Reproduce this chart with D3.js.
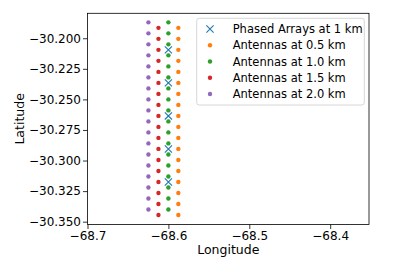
<!DOCTYPE html>
<html>
<head>
<meta charset="utf-8">
<script src="https://cdn.jsdelivr.net/npm/d3@7"></script>
<style>
  body { margin: 0; background: #fff; }
  text { font-family: "DejaVu Sans", sans-serif; fill: #000; }
</style>
</head>
<body>
<div id="chart-area"></div>
<script>
// SVG Size
var width = 407,
    height = 271;

// longitudes of each column
var lonPhased = -68.6,
    lon05 = -68.5877,
    lon10 = -68.6,
    lon15 = -68.6123,
    lon20 = -68.6247;

// latitudes of the points in each column
var latPhased = [-30.2095, -30.2365, -30.2635, -30.2905, -30.3175];
var lat05 = [-30.1915, -30.2005, -30.2095, -30.2185, -30.2275, -30.2365, -30.2455, -30.2545, -30.2635,
             -30.2725, -30.2815, -30.2905, -30.2995, -30.3085, -30.3175, -30.3265, -30.3355, -30.3445];
var lat10 = [-30.187, -30.196, -30.205, -30.214, -30.223, -30.232, -30.241, -30.250, -30.259,
             -30.268, -30.277, -30.286, -30.295, -30.304, -30.313, -30.322, -30.331, -30.340];
var lat15 = [-30.1915, -30.2005, -30.2095, -30.2185, -30.2275, -30.2365, -30.2455, -30.2545, -30.2635,
             -30.2725, -30.2815, -30.2905, -30.2995, -30.3085, -30.3175, -30.3265, -30.3355, -30.3445];
var lat20 = [-30.187, -30.196, -30.205, -30.214, -30.223, -30.232, -30.241, -30.250, -30.259,
             -30.268, -30.277, -30.286, -30.295, -30.304, -30.313, -30.322, -30.331, -30.340];

var xTicks = [-68.7, -68.6, -68.5, -68.4];
var yTicks = [-30.200, -30.225, -30.250, -30.275, -30.300, -30.325, -30.350];

var seriesNames = ["Antennas at 0.5 km", "Antennas at 1.0 km", "Antennas at 1.5 km", "Antennas at 2.0 km"];
var seriesColors = ["#ff7f0e", "#2ca02c", "#d62728", "#9467bd"];

var series = [
  { name: seriesNames[0], color: seriesColors[0], lon: lon05, lat: lat05 },
  { name: seriesNames[1], color: seriesColors[1], lon: lon10, lat: lat10 },
  { name: seriesNames[2], color: seriesColors[2], lon: lon15, lat: lat15 },
  { name: seriesNames[3], color: seriesColors[3], lon: lon20, lat: lat20 }
];

var svg = d3.select("#chart-area").append("svg")
    .attr("width", width)
    .attr("height", height);

var plotLeft = 87.5, plotRight = 369, plotTop = 13.3, plotBottom = 224.5;

var x = d3.scaleLinear()
    .domain([-68.7, -68.352])
    .range([plotLeft, plotRight]);

var y = d3.scaleLinear()
    .domain([-30.3523, -30.1796])
    .range([plotBottom, plotTop]);

// axes
var xAxis = d3.axisBottom(x)
    .tickValues(xTicks)
    .tickFormat(d3.format(".1f"))
    .tickSize(4.5)
    .tickPadding(2);

var yAxis = d3.axisLeft(y)
    .tickValues(yTicks)
    .tickFormat(d3.format(".3f"))
    .tickSize(4.5)
    .tickPadding(2);

var gx = svg.append("g")
    .attr("transform", "translate(0," + plotBottom + ")")
    .call(xAxis);
var gy = svg.append("g")
    .attr("transform", "translate(" + plotLeft + ",0)")
    .call(yAxis);

[gx, gy].forEach(function(g) {
  g.select(".domain").remove();
  g.selectAll(".tick line").attr("stroke", "#000").attr("stroke-width", 0.8);
  g.selectAll(".tick text")
    .style("font-family", "DejaVu Sans")
    .style("font-size", "12px")
    .attr("fill", "#000");
});

// dots
series.forEach(function(s) {
  svg.append("g").selectAll("circle")
    .data(s.lat)
    .enter()
    .append("circle")
    .attr("cx", x(s.lon))
    .attr("cy", function(d) { return y(d); })
    .attr("r", 2.2)
    .attr("fill", s.color);
});

// phased arrays (x markers)
var xm = 3.6;
svg.append("g").selectAll("path")
  .data(latPhased)
  .enter()
  .append("path")
  .attr("d", function(d) {
    var cx = x(lonPhased), cy = y(d);
    return "M" + (cx - xm) + "," + (cy - xm) + "L" + (cx + xm) + "," + (cy + xm) +
           "M" + (cx - xm) + "," + (cy + xm) + "L" + (cx + xm) + "," + (cy - xm);
  })
  .attr("stroke", "#1f77b4")
  .attr("stroke-width", 1.1)
  .attr("fill", "none");

// frame
svg.append("rect")
  .attr("x", plotLeft)
  .attr("y", plotTop)
  .attr("width", plotRight - plotLeft)
  .attr("height", plotBottom - plotTop)
  .attr("fill", "none")
  .attr("stroke", "#000")
  .attr("stroke-width", 0.8);

// axis labels
svg.append("text")
  .attr("x", (plotLeft + plotRight) / 2)
  .attr("y", 254)
  .attr("text-anchor", "middle")
  .style("font-size", "12.5px")
  .text("Longitude");

svg.append("text")
  .attr("transform", "translate(24," + (plotTop + plotBottom) / 2 + ") rotate(-90)")
  .attr("text-anchor", "middle")
  .style("font-size", "12.5px")
  .text("Latitude");

// legend
var legend = svg.append("g");
legend.append("rect")
  .attr("x", 196.7)
  .attr("y", 18.3)
  .attr("width", 167.6)
  .attr("height", 86.7)
  .attr("rx", 2.5)
  .attr("fill", "#fff")
  .attr("fill-opacity", 0.8)
  .attr("stroke", "#ccc")
  .attr("stroke-width", 0.8);

var rowY = d3.scaleLinear().domain([0, 4]).range([29, 94]);

var lx = 210;
legend.append("path")
  .attr("d", "M" + (lx - xm) + "," + (rowY(0) - xm) + "L" + (lx + xm) + "," + (rowY(0) + xm) +
             "M" + (lx - xm) + "," + (rowY(0) + xm) + "L" + (lx + xm) + "," + (rowY(0) - xm))
  .attr("stroke", "#1f77b4")
  .attr("stroke-width", 1.1);
legend.append("text")
  .attr("x", 232.7)
  .attr("y", rowY(0))
  .attr("dy", "0.35em")
  .style("font-size", "11.5px")
  .text("Phased Arrays at 1 km");

series.forEach(function(s, i) {
  legend.append("circle")
    .attr("cx", lx)
    .attr("cy", rowY(i + 1))
    .attr("r", 2.2)
    .attr("fill", s.color);
  legend.append("text")
    .attr("x", 232.7)
    .attr("y", rowY(i + 1))
    .attr("dy", "0.35em")
    .style("font-size", "11.5px")
    .text(s.name);
});
</script>
</body>
</html>
